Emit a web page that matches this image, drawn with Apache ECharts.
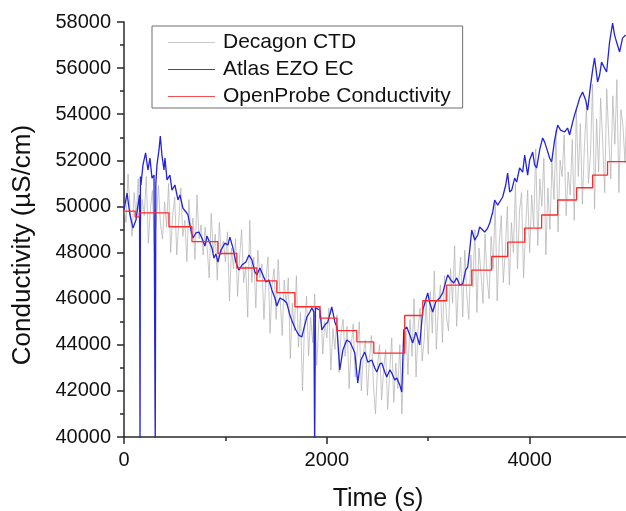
<!DOCTYPE html>
<html>
<head>
<meta charset="utf-8">
<script src="https://cdn.jsdelivr.net/npm/echarts@6/dist/echarts.min.js"></script>
<style>
html,body{margin:0;padding:0;background:#fff;}
#c{width:626px;height:511px;}
</style>
</head>
<body>
<div id="c"></div>
<script>
// ---- data ----
const seriesNames = ['Decagon CTD', 'Atlas EZO EC', 'OpenProbe Conductivity'];
const xTicks = [0, 2000, 4000];
const xMinorTicks = [1000, 3000];
const yTicks = [40000, 42000, 44000, 46000, 48000, 50000, 52000, 54000, 56000, 58000];

// Decagon CTD, sampled every 20 s starting at t = 0
const decagonStep = 20;
const decagonV = [
  50100, 49300, 51400, 49800, 48700, 50600, 49500, 51200, 48900, 50300,
  49600, 51300, 48400, 49900, 50700, 48100, 49500, 50900, 49200, 48600,
  50200, 49100, 51000, 48000, 49600, 50400, 47900, 49300, 50800, 48700,
  49400, 47600, 50300, 48800, 49500, 47700, 50500, 48600, 49200, 47900,
  49100, 48200, 46900, 49700, 48000, 48800, 46800, 49300, 47900, 48500,
  47600, 48900, 45900, 48200, 47300, 48600, 46100, 47800, 49000, 46700,
  47400, 45200, 49400, 46700, 47800, 45600, 48100, 46900, 47500, 45100,
  46900, 47800, 44500, 46600, 47300, 45100, 47700, 46000, 44400, 46800,
  45700, 46900, 43400, 45800, 44600, 47000, 43900, 45400, 42000, 44900,
  46100, 43500, 45200, 44100, 46200, 43100, 44900, 45700, 43600, 45000,
  44300, 45600, 42900, 44700, 43800, 45300, 42800, 44500, 45100, 43500,
  44800, 42100, 43900, 44900, 42600, 43700, 45000, 42000, 43600, 44200,
  41800, 43400, 44400, 42200, 41000, 43100, 44000, 41600, 42900, 43800,
  41200, 42800, 44300, 41500, 43200, 42100, 44000, 41000, 43300, 44600,
  42700, 45100, 43500, 46000, 42600, 44700, 45600, 43300, 44200, 45900,
  43600, 46300, 44500, 47200, 43800, 45700, 46600, 44100, 47000, 45200,
  44600, 47300, 45800, 48300, 44800, 46700, 47800, 45200, 48100, 46200,
  45100, 47900, 46500, 49000, 45400, 48200, 47100, 45800, 48800, 46900,
  46000, 48700, 47300, 50200, 45900, 48400, 49600, 46700, 48100, 50000,
  46600, 49300, 48000, 51000, 47300, 49800, 50600, 46900, 49000, 50700,
  48000, 50500, 49100, 52500, 48300, 51200, 50000, 52100, 47900, 50800,
  49000, 51900, 50300, 53300, 48900, 52000, 51300, 53100, 49600, 51500,
  50500, 52900, 49400, 54200, 51300, 53600, 50100, 52600, 54300, 51000,
  52300, 55300, 49900, 53800, 51500, 54700, 52800, 50600, 55100, 53000,
  51200, 54800, 52700, 55500, 50600, 54200, 53500, 51900, 54600, 53100
];

// Atlas EZO EC (time s, value µS/cm)
const atlasT = [
  0, 30, 59, 89, 118, 138, 153, 158, 162, 167, 187, 213, 236, 256, 276, 296, 308, 314,
  325, 345, 358, 374, 394, 404, 424, 453, 473, 502, 532, 552, 581, 611, 631, 650, 680,
  709, 739, 768, 798, 818, 847, 867, 887, 906, 926, 956, 995, 1025, 1044, 1074, 1103,
  1133, 1163, 1202, 1232, 1261, 1291, 1310, 1340, 1369, 1399, 1429, 1458, 1488, 1507,
  1537, 1576, 1606, 1635, 1665, 1695, 1724, 1754, 1783, 1803, 1833, 1852, 1872, 1880,
  1888, 1931, 1951, 1980, 2010, 2049, 2079, 2099, 2128, 2158, 2197, 2227, 2256, 2276,
  2305, 2335, 2374, 2404, 2443, 2473, 2493, 2522, 2542, 2571, 2591, 2621, 2640, 2670,
  2690, 2719, 2739, 2759, 2788, 2818, 2847, 2877, 2916, 2946, 2975, 2995, 3015, 3044,
  3074, 3113, 3143, 3172, 3192, 3222, 3251, 3281, 3310, 3340, 3369, 3389, 3409, 3429,
  3458, 3488, 3507, 3537, 3557, 3586, 3606, 3636, 3655, 3685, 3704, 3734, 3764, 3783,
  3803, 3823, 3852, 3872, 3901, 3931, 3951, 3980, 4000, 4030, 4049, 4069, 4099, 4128,
  4148, 4167, 4197, 4217, 4246, 4276, 4305, 4345, 4374, 4394, 4424, 4443, 4473, 4493,
  4522, 4552, 4571, 4601, 4621, 4640, 4670, 4690, 4709, 4739, 4759, 4788, 4818, 4837,
  4857, 4887, 4916, 4946
];
const atlasV = [
  49850, 50580, 49630, 49060, 49410, 50060, 50500, 39500, 51300, 50930, 51800, 52320, 51580, 52100, 51230, 51360, 39500, 51000,
  51800, 52450, 53050, 52230, 51580, 52100, 51150, 51360, 50710, 50930, 50280, 50500, 49930, 49760, 49630, 49190, 48630,
  48850, 48890, 48630, 48280, 48720, 48410, 48200, 47760, 47940, 47590, 48110, 48410, 48330, 48670, 48200, 47590,
  47240, 47460, 47590, 47890, 47680, 47160, 47030, 47330, 47030, 46720, 46810, 46380, 46030, 45680,
  46030, 45940, 45810, 45290, 44940, 44640, 44420, 44340, 44860, 45200, 45420, 45600, 45420, 39500,
  45600, 45510, 44640, 44860, 44990, 45640, 44990, 44770, 42910, 43770, 44210, 44120, 43860, 43640,
  42340, 43340, 43690, 43250, 43340, 42990, 42820, 43170, 43210, 42820, 42600, 42910, 42780, 42470,
  42560, 42260, 41950, 44640, 44770, 44420, 44080, 44550, 43990, 45510, 45940, 46250, 45810, 45420,
  45860, 46030, 46250, 46720, 47030, 46810, 46680, 46900, 46590, 46640, 47240, 47370, 48110, 48980,
  48540, 48760, 49110, 48980, 48890, 49060, 49280, 49760, 50280, 50060, 49980, 50410, 50930, 51450,
  50630, 50710, 51230, 51060, 51670, 51490, 52230, 51360, 52010, 52360, 51800, 51670, 52450, 52970,
  52790, 52530, 52100, 51930, 52880, 53530, 53310, 53230, 53400, 53100, 53660, 53970, 54400, 54700,
  54960, 54620, 54180, 55270, 55920, 56440, 55400, 55700, 56260, 56000, 55830, 57130, 57950, 57440,
  57130, 56700, 57300, 57440
];

// OpenProbe Conductivity, step levels (start time s, value µS/cm)
const openT = [0, 110, 150, 443, 670, 926, 1113, 1310, 1507, 1685, 1931, 2099, 2296, 2463, 2768, 2946, 3182, 3429, 3626, 3783, 3951, 4118, 4276, 4463, 4621, 4768, 4950];
const openV = [49800, 49550, 49720, 49120, 48470, 47960, 47330, 46770, 46260, 45650, 45160, 44610, 44130, 43640, 45270, 45910, 46590, 47240, 47830, 48450, 49060, 49630, 50280, 50810, 51360, 51940, 51940];

// ---- build ----
const decagonData = decagonV.map((v, i) => [i * decagonStep, v]);
const atlasData = atlasT.map((t, i) => [t, atlasV[i]]);
const openData = openT.map((t, i) => [t, openV[i]]);

const FONT = '"Liberation Sans", Arial, sans-serif';
const axisColor = '#2a2a2a';
const X_MAX = 4950;

const chart = echarts.init(document.getElementById('c'), null, {renderer: 'canvas'});
chart.setOption({
  animation: false,
  backgroundColor: '#fff',
  grid: {left: 124, right: 0, top: 22, bottom: 74, containLabel: false},
  legend: {
    orient: 'vertical',
    left: 152, top: 26,
    padding: [6, 12, 1, 16],
    itemGap: 6,
    itemWidth: 47,
    itemHeight: 12,
    borderColor: '#6e6e6e',
    borderWidth: 1,
    backgroundColor: '#fff',
    icon: 'path://M0,5 L47,5 L47,6 L0,6 Z',
    textStyle: {fontFamily: FONT, fontSize: 21, color: '#111', padding: [0, 0, 0, 3]},
    data: seriesNames
  },
  xAxis: [{
    type: 'value', min: 0, max: X_MAX, interval: 2000,
    axisLine: {show: true, onZero: false, lineStyle: {color: axisColor, width: 1.5}},
    axisTick: {show: true, length: 7, customValues: xTicks, lineStyle: {color: axisColor, width: 1.5}},
    splitLine: {show: false},
    axisLabel: {
      margin: 13, fontFamily: FONT, fontSize: 20, color: '#111', customValues: xTicks,
      formatter: v => (xTicks.indexOf(v) >= 0 ? String(v) : '')
    }
  }, {
    type: 'value', min: 0, max: X_MAX, position: 'bottom', gridIndex: 0,
    axisLine: {show: false},
    axisTick: {show: true, length: 4, customValues: xMinorTicks, lineStyle: {color: axisColor, width: 1.5}},
    axisLabel: {show: false},
    splitLine: {show: false}
  }],
  yAxis: {
    type: 'value', min: 40000, max: 58000, interval: 2000,
    axisLine: {show: true, onZero: false, lineStyle: {color: axisColor, width: 1.5}},
    axisTick: {show: true, length: 7, lineStyle: {color: axisColor, width: 1.5}},
    minorTick: {show: true, splitNumber: 2, length: 4, lineStyle: {color: axisColor, width: 1.5}},
    splitLine: {show: false},
    axisLabel: {
      margin: 13, fontFamily: FONT, fontSize: 20, color: '#111',
      formatter: v => (yTicks.indexOf(v) >= 0 ? String(v) : '')
    }
  },
  graphic: [
    {type: 'text', x: 23, y: 245, rotation: Math.PI / 2,
     style: {text: 'Conductivity (µS/cm)', font: '26px ' + FONT, fill: '#111', align: 'center', verticalAlign: 'middle'}},
    {type: 'text', x: 378, y: 499,
     style: {text: 'Time (s)', font: '25px ' + FONT, fill: '#111', align: 'center', verticalAlign: 'middle'}}
  ],
  series: [
    {name: seriesNames[0], type: 'line', data: decagonData, showSymbol: false, symbol: 'none',
     lineStyle: {color: 'rgba(175,175,175,0.7)', width: 1}, itemStyle: {color: '#c8c8c8'}, z: 1},
    {name: seriesNames[1], type: 'line', data: atlasData, showSymbol: false, symbol: 'none',
     lineStyle: {color: '#2323dd', width: 1.3}, itemStyle: {color: '#3c3cd8'}, z: 2},
    {name: seriesNames[2], type: 'line', data: openData, step: 'end', showSymbol: false, symbol: 'none',
     lineStyle: {color: '#ff2a2a', width: 1.3}, itemStyle: {color: '#f05050'}, z: 3}
  ]
});
</script>
</body>
</html>
